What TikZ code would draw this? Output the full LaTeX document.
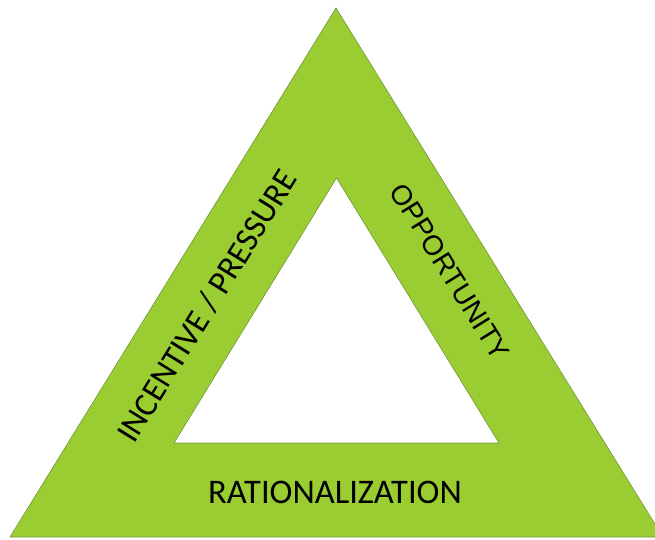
\documentclass[tikz,border=0pt]{standalone}
\usepackage{fontspec}
\setmainfont{Carlito}
\newfontfamily\arialfont{Liberation Sans}
\definecolor{leaf}{RGB}{154,205,50}
\definecolor{leafedge}{RGB}{118,150,60}

\begin{document}
\begin{tikzpicture}[x=1pt, y=-1pt]
    \useasboundingbox (0,0) rectangle (655,540);
    \tikzset{band/.style={font=\fontsize{33.5}{38}\selectfont, inner sep=0pt}}
    % outer triangle with the inner one cut out
    \fill[leaf, even odd rule] (336,8) -- (663,537) -- (10,537) -- cycle
        (336.5,178) -- (499,443) -- (174,443) -- cycle;
    \draw[leafedge, line width=.6pt] (336,8) -- (663,537) -- (10,537) -- cycle;
    \draw[leafedge, line width=.6pt] (336.5,178) -- (499,443) -- (174,443) -- cycle;
    \node[band, rotate=58.3] (incentive) at (207,306) {INCENTIVE / PRESSURE};
    \node[band, rotate=-58.3, font=\arialfont\fontsize{28}{32}\selectfont] (opportunity) at (450,272) {OPPORTUNITY};
    \node[band, font=\fontsize{34.5}{38}\selectfont] (rationalization) at (335,492) {RATIONALIZATION};
\end{tikzpicture}
\end{document}
